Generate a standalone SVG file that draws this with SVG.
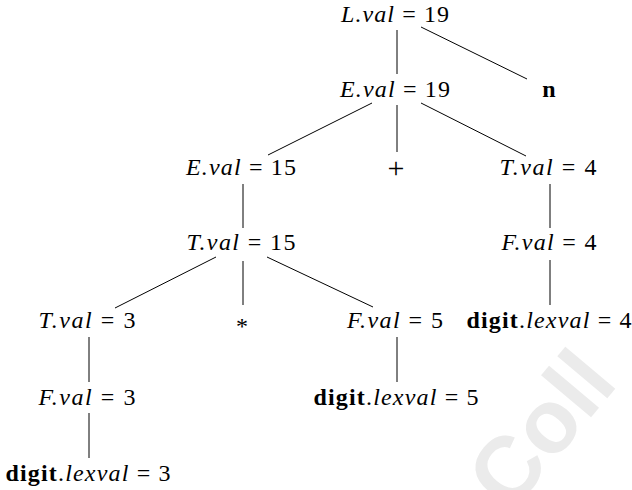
<svg xmlns="http://www.w3.org/2000/svg" width="632" height="490" viewBox="0 0 632 490">
<style>
.t{font-family:'Liberation Serif','Times New Roman',Times,serif;font-size:24px;fill:#000;text-anchor:middle}
.i{font-style:italic}
.b{font-weight:bold}
.e{stroke:#000;stroke-width:1;fill:none}
.wm{font-family:'Liberation Sans',Arial,sans-serif;font-weight:bold;font-size:90px;fill:#ebebeb}
</style>
<rect width="632" height="490" fill="#fff"/>
<text class="wm" x="510" y="514" transform="rotate(-50 510 514)">Coll</text>
<g id="edges">
<line class="e" x1="397" y1="30" x2="397" y2="74"/>
<line class="e" x1="421" y1="27" x2="527" y2="79"/>
<line class="e" x1="372" y1="103" x2="268" y2="155"/>
<line class="e" x1="397" y1="105" x2="397" y2="152"/>
<line class="e" x1="421" y1="103" x2="526" y2="156"/>
<line class="e" x1="243" y1="184" x2="243" y2="228"/>
<line class="e" x1="550" y1="184" x2="550" y2="228"/>
<line class="e" x1="216" y1="257" x2="115" y2="308"/>
<line class="e" x1="243" y1="261" x2="243" y2="305"/>
<line class="e" x1="267" y1="257" x2="373" y2="307"/>
<line class="e" x1="550" y1="260" x2="550" y2="305"/>
<line class="e" x1="89" y1="337" x2="89" y2="382"/>
<line class="e" x1="397" y1="337" x2="397" y2="382"/>
<line class="e" x1="89" y1="413" x2="89" y2="458"/>
</g>
<g id="n_L"><text class="t" x="395" y="22" textLength="108" lengthAdjust="spacing"><tspan class="i">L.val</tspan> = 19</text></g>
<g id="n_E19"><text class="t" x="395" y="97" textLength="110" lengthAdjust="spacing"><tspan class="i">E.val</tspan> = 19</text></g>
<g id="n_n"><text class="t b" x="549" y="97">n</text></g>
<g id="n_E15"><text class="t" x="241" y="175" textLength="110" lengthAdjust="spacing"><tspan class="i">E.val</tspan> = 15</text></g>
<g id="n_plus"><text class="t" x="396" y="178" style="font-size:30px">+</text></g>
<g id="n_T4"><text class="t" x="548" y="175" textLength="97" lengthAdjust="spacing"><tspan class="i">T.val</tspan> = 4</text></g>
<g id="n_T15"><text class="t" x="241" y="250" textLength="109" lengthAdjust="spacing"><tspan class="i">T.val</tspan> = 15</text></g>
<g id="n_F4"><text class="t" x="549" y="250" textLength="95" lengthAdjust="spacing"><tspan class="i">F.val</tspan> = 4</text></g>
<g id="n_T3"><text class="t" x="87" y="328" textLength="97" lengthAdjust="spacing"><tspan class="i">T.val</tspan> = 3</text></g>
<g id="n_star"><text class="t" x="242" y="334" style="font-size:24px">*</text></g>
<g id="n_F5"><text class="t" x="395" y="328" textLength="96" lengthAdjust="spacing"><tspan class="i">F.val</tspan> = 5</text></g>
<g id="n_d4"><text class="t" x="549" y="328" textLength="165" lengthAdjust="spacing"><tspan class="b">digit</tspan>.<tspan class="i">lexval</tspan> = 4</text></g>
<g id="n_F3"><text class="t" x="87" y="405" textLength="97" lengthAdjust="spacing"><tspan class="i">F.val</tspan> = 3</text></g>
<g id="n_d5"><text class="t" x="396" y="405" textLength="165" lengthAdjust="spacing"><tspan class="b">digit</tspan>.<tspan class="i">lexval</tspan> = 5</text></g>
<g id="n_d3"><text class="t" x="88" y="481" textLength="165" lengthAdjust="spacing"><tspan class="b">digit</tspan>.<tspan class="i">lexval</tspan> = 3</text></g>
</svg>
